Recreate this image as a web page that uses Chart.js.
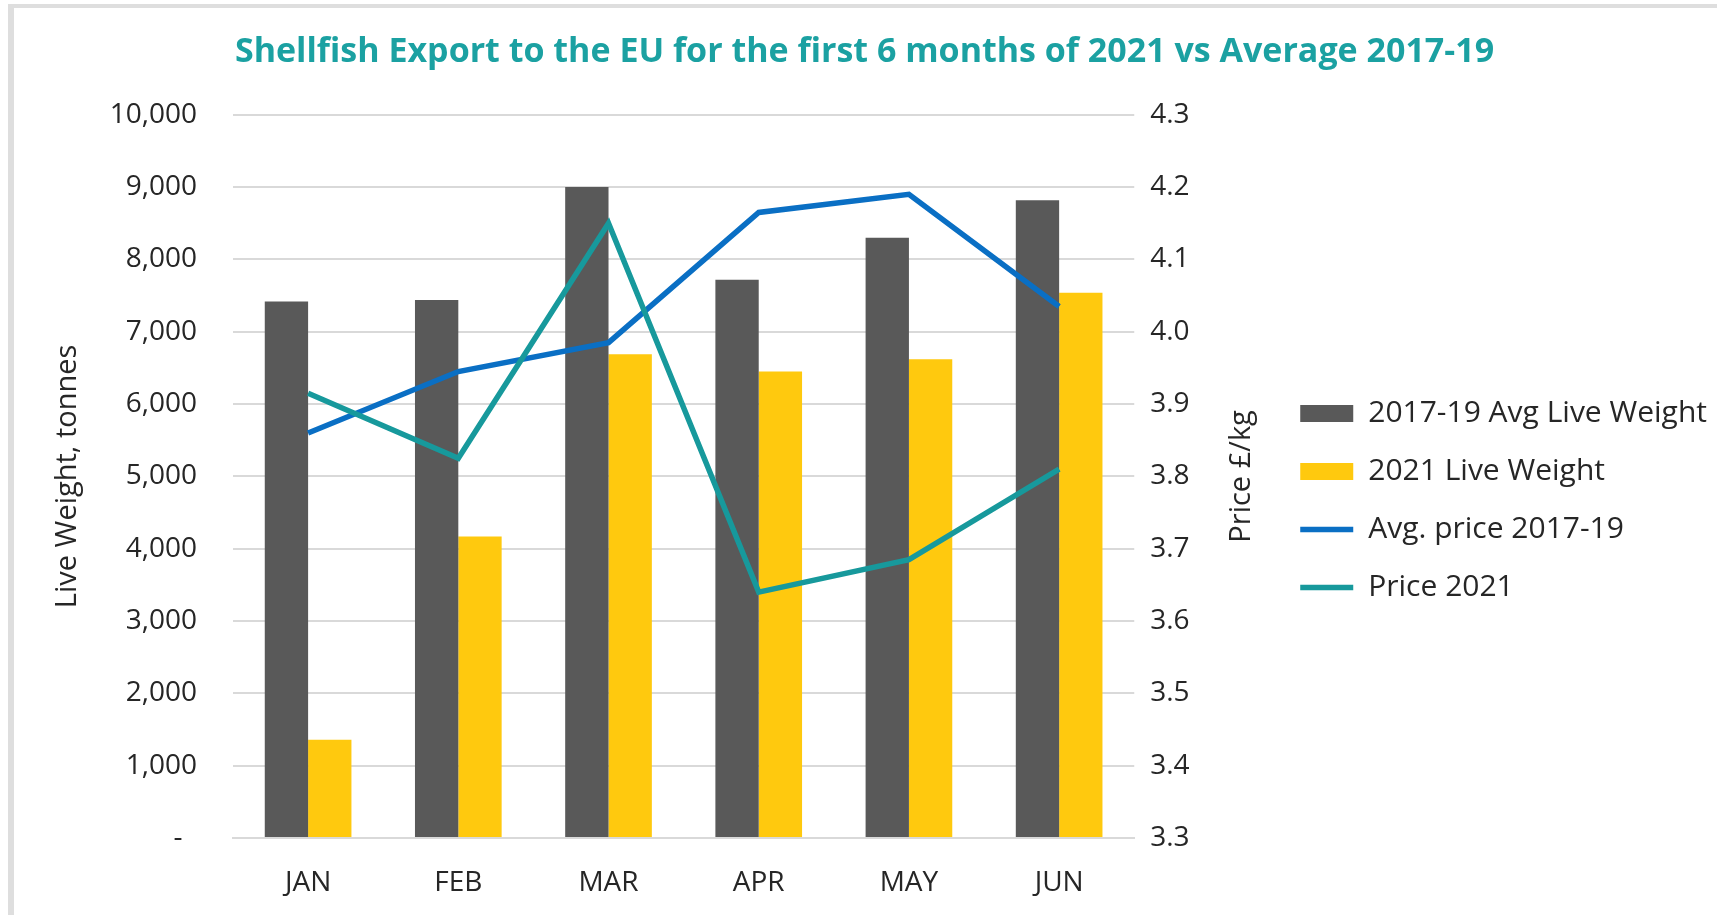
<!DOCTYPE html>
<html>
<head>
<meta charset="utf-8">
<script src="https://cdn.jsdelivr.net/npm/chart.js@4"></script>
<style>
  html, body { margin: 0; padding: 0; background: #fff; }
  #wrap { position: relative; width: 1717px; height: 915px; overflow: hidden; }
  #frame {
    position: absolute; left: 8px; top: 4px; width: 1800px; height: 1000px;
    border-left: 6px solid #dedede; border-top: 4px solid #dedede;
    pointer-events: none;
  }
  canvas { position: absolute; left: 0; top: 0; }
</style>
</head>
<body>
<div id="wrap">
  <canvas id="chart" width="1717" height="915"></canvas>
  <div id="frame"></div>
</div>
<script>
// months on the x axis
const months = ['JAN', 'FEB', 'MAR', 'APR', 'MAY', 'JUN'];

// live weight, tonnes (left axis)
const avgLiveWeight = [7420, 7440, 9000, 7720, 8300, 8820];
const liveWeight2021 = [1360, 4170, 6690, 6450, 6620, 7540];

// price £/kg (right axis)
const avgPrice = [3.86, 3.945, 3.985, 4.165, 4.19, 4.035];
const price2021 = [3.915, 3.825, 4.15, 3.64, 3.685, 3.81];

const textColor = '#262626';
const gridColor = '#d9d9d9';
const LEGEND_MAX = 470;

Chart.defaults.font.family = "'Open Sans', sans-serif";
Chart.defaults.color = textColor;

// the layout caps a side legend at a fraction of the width, let it be wider
const wideLegend = {
  id: 'wideLegend',
  beforeLayout(chart) {
    const lg = chart.legend;
    if (lg && !lg._wide) {
      const orig = lg.update.bind(lg);
      lg.update = (mw, mh, margins) => orig(LEGEND_MAX, mh, margins);
      lg._wide = true;
    }
  }
};

// right axis title reads bottom-to-top like the left one
const rightTitle = {
  id: 'rightTitle',
  afterDraw(chart) {
    const area = chart.chartArea;
    const c = chart.ctx;
    c.save();
    c.font = "29px 'Open Sans', sans-serif";
    c.fillStyle = textColor;
    c.textAlign = 'center';
    c.textBaseline = 'middle';
    c.translate(area.right + 107, (area.top + area.bottom) / 2);
    c.rotate(-Math.PI / 2);
    c.fillText('Price £/kg', 0, 0);
    c.restore();
  }
};

const ctx = document.getElementById('chart').getContext('2d');

new Chart(ctx, {
  type: 'bar',
  plugins: [wideLegend, rightTitle],
  data: {
    labels: months,
    datasets: [
      {
        label: '2017-19 Avg Live Weight',
        data: avgLiveWeight,
        backgroundColor: '#595959',
        yAxisID: 'y',
        order: 2,
        pointStyle: 'rect'
      },
      {
        label: '2021 Live Weight',
        data: liveWeight2021,
        backgroundColor: '#ffc90e',
        yAxisID: 'y',
        order: 2,
        pointStyle: 'rect'
      },
      {
        type: 'line',
        label: 'Avg. price 2017-19',
        data: avgPrice,
        borderColor: '#0a6fc4',
        backgroundColor: '#0a6fc4',
        borderWidth: 5.5,
        pointRadius: 0,
        tension: 0,
        yAxisID: 'y1',
        order: 1,
        pointStyle: 'line'
      },
      {
        type: 'line',
        label: 'Price 2021',
        data: price2021,
        borderColor: '#17999c',
        backgroundColor: '#17999c',
        borderWidth: 5.5,
        pointRadius: 0,
        tension: 0,
        yAxisID: 'y1',
        order: 0,
        pointStyle: 'line'
      }
    ]
  },
  options: {
    responsive: false,
    animation: false,
    layout: { padding: { left: 12, top: 8, right: 0, bottom: 0 } },
    datasets: {
      bar: { barPercentage: 1, categoryPercentage: 0.577 }
    },
    plugins: {
      title: {
        display: true,
        text: 'Shellfish Export to the EU for the first 6 months of 2021 vs Average 2017-19',
        color: '#1ba1a2',
        font: { size: 34, weight: 'bold' },
        padding: { top: 24, bottom: 42 }
      },
      legend: {
        position: 'right',
        title: { display: true, text: ' ', font: { size: 29 }, padding: { top: 43, bottom: 0 } },
        labels: {
          usePointStyle: true,
          pointStyleWidth: 53,
          boxHeight: 17,
          padding: 28,
          color: textColor,
          font: { size: 30 },
          sort: (a, b) => a.datasetIndex - b.datasetIndex
        }
      },
      tooltip: { enabled: false }
    },
    scales: {
      x: {
        grid: { display: false },
        border: { display: true, color: gridColor, width: 2 },
        ticks: { font: { size: 28 }, padding: 20, color: textColor },
        afterFit: (s) => { s.height = 77; }
      },
      y: {
        position: 'left',
        min: 0,
        max: 10000,
        ticks: {
          stepSize: 1000,
          padding: 36,
          font: { size: 28 },
          color: textColor,
          callback: (v) => v === 0 ? '-  ' : v.toLocaleString('en-US')
        },
        grid: { color: gridColor, lineWidth: 2, drawTicks: false },
        border: { display: false },
        title: {
          display: true,
          text: 'Live Weight, tonnes',
          font: { size: 29 },
          color: textColor,
          padding: { top: 38, bottom: 0 }
        },
        afterFit: (s) => { s.width = 221; }
      },
      y1: {
        position: 'right',
        min: 3.3,
        max: 4.3,
        ticks: {
          stepSize: 0.1,
          padding: 16,
          font: { size: 28 },
          color: textColor,
          callback: (v) => Number(v).toFixed(1)
        },
        grid: { display: false, drawTicks: false },
        border: { display: false },
        afterFit: (s) => { s.width = 138; }
      }
    }
  }
});
</script>
</body>
</html>
